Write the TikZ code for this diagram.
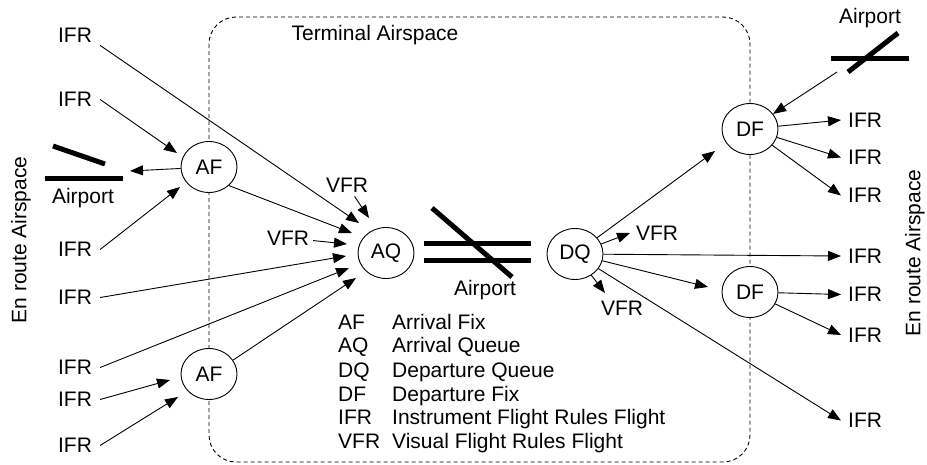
\documentclass[tikz,border=0pt]{standalone}
\usepackage{fontspec}
\setmainfont{Liberation Sans}
\usetikzlibrary{arrows.meta,shapes.geometric}
\begin{document}
\begin{tikzpicture}[x=1pt,y=-1pt,
  txt/.style={font=\fontsize{21}{25}\selectfont, inner sep=0pt},
  lbl/.style={txt, inner xsep=8pt, inner ysep=3pt},
  rlbl/.style={txt, inner xsep=7pt, inner ysep=3pt},
  vlbl/.style={txt, inner sep=4pt},
  fix/.style={ellipse, draw, fill=white, line width=0.9pt, minimum width=56pt, minimum height=51pt, inner sep=0pt, font=\fontsize{21}{25}\selectfont},
  conn/.style={line width=0.9pt},
  arr/.style={conn, -{Triangle[length=13pt,width=10pt]}},
  runway/.style={line width=5pt},
  zone/.style={dash pattern=on 4pt off 3pt, line width=0.9pt, rounded corners=27pt}
]
\fill[white] (0,0) rectangle (927,464);
\useasboundingbox (0,0) rectangle (927,464);

% terminal airspace boundary
\draw[zone] (209,17) rectangle (750,462);
\node[txt] (term) at (375,35) {Terminal Airspace};

% en route labels
\node[txt, rotate=90] (erl) at (21,240) {En route Airspace};
\node[txt, rotate=90] (err) at (915,253) {En route Airspace};

% fixes and queues
\node[fix] (AF1) at (209,167) {AF};
\node[fix] (AF2) at (209,374) {AF};
\node[fix] (AQ) at (386,253) {AQ};
\node[fix] (DQ) at (575,254) {DQ};
\node[fix] (DF1) at (750,129) {DF};
\node[fix] (DF2) at (750,292) {DF};

% left IFR labels
\node[lbl] (L1) at (75,35) {IFR};
\node[lbl] (L2) at (75,99.5) {IFR};
\node[lbl] (L3) at (75,249.5) {IFR};
\node[lbl] (L4) at (75,297.5) {IFR};
\node[lbl] (L5) at (75,367.5) {IFR};
\node[lbl] (L6) at (75,399.5) {IFR};
\node[lbl] (L7) at (75,445.5) {IFR};

% right IFR labels
\node[rlbl, anchor=west] (R1) at (841,120) {IFR};
\node[rlbl, anchor=west] (R2) at (841,157.5) {IFR};
\node[rlbl, anchor=west] (R3) at (841,195.5) {IFR};
\node[rlbl, anchor=west] (R4) at (841,256) {IFR};
\node[rlbl, anchor=west] (R5) at (841,294.5) {IFR};
\node[rlbl, anchor=west] (R6) at (841,335) {IFR};
\node[rlbl, anchor=west] (R7) at (841,420.5) {IFR};

% VFR labels
\node[vlbl] (VT) at (347,185) {VFR};
\node[vlbl] (VL) at (288,238) {VFR};
\node[txt] (VR1) at (657,233) {VFR};
\node[txt] (VR2) at (622,308) {VFR};

% airports
\draw[runway] (53,146) -- (105,164);
\draw[runway] (45,178) -- (123,178);
\node[txt] (apLlbl) at (83,198) {Airport};
\draw[runway] (424,243) -- (531,243);
\draw[runway] (424,260) -- (531,260);
\draw[runway] (432,208) -- (512,277);
\node[txt] (apClbl) at (485,290) {Airport};
\draw[runway] (831,58) -- (909,58);
\draw[runway] (848,72) -- (898,33);
\node[txt] (apRlbl) at (870,18) {Airport};

% arrow tip coordinates
\coordinate (tAQ1) at (359,223);
\coordinate (tAQ2) at (352,233);
\coordinate (tAQ3) at (347,244);
\coordinate (tAQ4) at (346,256);
\coordinate (tAQ5) at (349,268);
\coordinate (tAQ6) at (356,278);
\coordinate (tAQ7) at (369,218);
\coordinate (tAF1a) at (177,153);
\coordinate (tAF1b) at (180,187);
\coordinate (tAF2a) at (170,380);
\coordinate (tAF2b) at (178,397);
\coordinate (apL) at (130,171);
\coordinate (apR) at (837,72);
\coordinate (tDF1) at (715,151);
\coordinate (tDF2) at (708,287);
\coordinate (tVR1) at (630,233);
\coordinate (tVR2) at (605,293);

% arrivals
\draw[arr] (L1.south east) -- (tAQ1);
\draw[arr] (L2.east) -- (tAF1a);
\draw[arr] (L3.east) -- (tAF1b);
\draw[arr] (L4.east) -- (tAQ4);
\draw[arr] (L5.east) -- (tAQ5);
\draw[arr] (L6.east) -- (tAF2a);
\draw[arr] (L7.east) -- (tAF2b);
\draw[arr] (AF1) -- (apL);
\draw[arr] (AF1.-43) -- (tAQ2);
\draw[arr] (AF2.30) -- (tAQ6);
\draw[arr] (VT) -- (tAQ7);
\draw[arr] (VL) -- (tAQ3);

% departures
\draw[arr] (DQ) -- (tDF1);
\draw[arr] (DQ) -- (tDF2);
\draw[arr] (DQ) -- (tVR1);
\draw[arr] (DQ) -- (tVR2);
\draw[arr] (DQ) -- (R4.west);
\draw[arr] (DQ) -- (R7.west);
\draw[arr] (apR) -- (DF1);
\draw[arr] (DF1) -- (R1.west);
\draw[arr] (DF1) -- (R2.west);
\draw[arr] (DF1) -- (R3.west);
\draw[arr] (DF2) -- (R5.west);
\draw[arr] (DF2) -- (R6.west);

% legend
\node[txt, anchor=base west] (k1) at (338,329) {AF};
\node[txt, anchor=base west] (d1) at (392,329) {Arrival Fix};
\node[txt, anchor=base west] (k2) at (338,352.5) {AQ};
\node[txt, anchor=base west] (d2) at (392,352.5) {Arrival Queue};
\node[txt, anchor=base west] (k3) at (338,377) {DQ};
\node[txt, anchor=base west] (d3) at (392,377) {Departure Queue};
\node[txt, anchor=base west] (k4) at (338,401) {DF};
\node[txt, anchor=base west] (d4) at (392,401) {Departure Fix};
\node[txt, anchor=base west] (k5) at (338,424.5) {IFR};
\node[txt, anchor=base west] (d5) at (392,424.5) {Instrument Flight Rules Flight};
\node[txt, anchor=base west] (k6) at (338,448.5) {VFR};
\node[txt, anchor=base west] (d6) at (392,448.5) {Visual Flight Rules Flight};
\end{tikzpicture}
\end{document}
